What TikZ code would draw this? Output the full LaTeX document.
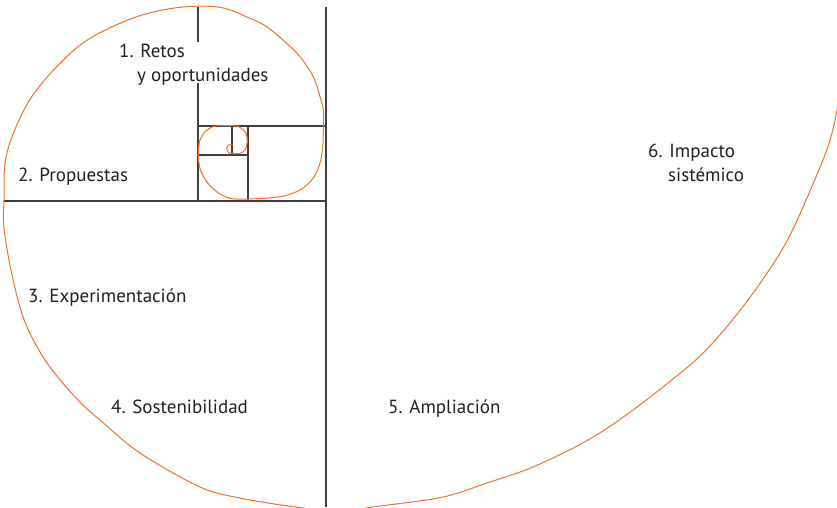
\documentclass[tikz,border=0pt]{standalone}
\usepackage{fontspec}
\setmainfont{PT Sans}
\definecolor{spiral}{HTML}{F26F2C}
\definecolor{gridc}{HTML}{3F3F3F}
\definecolor{txt}{HTML}{231F20}
\begin{document}
\begin{tikzpicture}[x=1pt,y=-1pt,
  gridline/.style={draw=gridc,line width=1.2pt},
  spiralline/.style={draw=spiral,line width=1pt,line join=round,line cap=round},
  lbl/.style={anchor=base west,inner sep=0pt,text=txt,font=\fontsize{19}{22}\selectfont}]
\useasboundingbox (0,0) rectangle (837,507);
% grid of squares
\draw[gridline] (326,7) -- (326,507);
\draw[gridline] (4,201) -- (326,201);
\draw[gridline] (198,7) -- (198,42);
\draw[gridline] (198,83) -- (198,201);
\draw[gridline] (198,126) -- (326,126);
\draw[gridline] (248,126) -- (248,201);
\draw[gridline] (198,155) -- (248,155);
\draw[gridline] (232,126) -- (232,155);
% spiral
\begin{scope}
\clip (0,0) rectangle (837,507);
\draw[spiralline] plot[smooth,tension=0.55] coordinates {
 (232.3,144.3) (228.3,145.2) (226.7,148.3) (228.3,152.3) (232,153.6)
 (240,153.3) (245,150) (247.3,141.7) (246,133.3) (240,127.3) (233.3,125.7)
 (223,125.7) (213,126.7) (205,131.7) (200,140) (198.3,153.3) (200,168.3)
 (206.7,181.7) (216.7,191.7) (230,198.3) (248.3,199) (280,196.7) (300,190)
 (313,178.3) (320,163.3) (322.7,146.7) (323.3,130) (323.3,110) (320,96.7)
 (313.3,76.7) (300,56.7) (286.7,43.3) (266.7,26.7) (250,18.3) (220,7.3)
 (180,7.3) (136.7,16.7) (90,38.3) (60,63.3) (31.7,96.7) (13.3,133.3)
 (5,163.3) (4,200) (4,228) (12,275) (25,322) (47,363) (78,400) (100,420)
 (140,453) (200,487) (240,498) (295,507) (337,511) (380,506) (443,497)
 (487,483) (533,467) (588,440) (633,410) (690,365) (718,337) (748,300)
 (777,258) (795,225) (823,160) (832,133) (837,110) (842,80)};
\end{scope}
% labels
\node[lbl] (l1a) at (119,57) {1. Retos};
\node[lbl] (l1b) at (137,81) {y oportunidades};
\node[lbl] (l2) at (18,181) {2. Propuestas};
\node[lbl] (l3) at (28,302) {3. Experimentación};
\node[lbl] (l4) at (111,413) {4. Sostenibilidad};
\node[lbl] (l5) at (388,413) {5. Ampliación};
\node[lbl] (l6a) at (648,157) {6. Impacto};
\node[lbl] (l6b) at (668,181) {sistémico};
\end{tikzpicture}
\end{document}
